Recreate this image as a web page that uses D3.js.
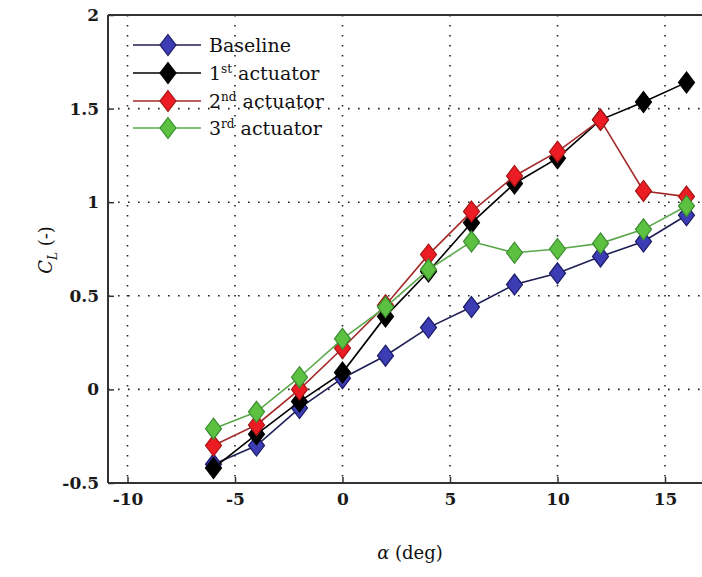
<!DOCTYPE html>
<html>
<head>
<meta charset="utf-8">
<script src="https://cdn.jsdelivr.net/npm/d3@7"></script>
<style>
  body { margin: 0; background: #fff; }
  svg { display: block; }
</style>
</head>
<body>
<div id="chart"></div>
<script>
var width = 702;
var height = 577;

// angle of attack (deg)
var alpha = [-6, -4, -2, 0, 2, 4, 6, 8, 10, 12, 14, 16];

var baseline = [-0.40, -0.30, -0.10, 0.06, 0.18, 0.33, 0.44, 0.56, 0.62, 0.71, 0.79, 0.93];
var actuator1 = [-0.42, -0.24, -0.065, 0.09, 0.39, 0.63, 0.89, 1.10, 1.235, 1.44, 1.535, 1.64];
var actuator2 = [-0.30, -0.19, 0.00, 0.22, 0.45, 0.72, 0.95, 1.14, 1.27, 1.44, 1.06, 1.03];
var actuator3 = [-0.21, -0.12, 0.065, 0.27, 0.44, 0.64, 0.79, 0.73, 0.75, 0.78, 0.855, 0.98];

var xTicks = [-10, -5, 0, 5, 10, 15];
var yTicks = [-0.5, 0, 0.5, 1, 1.5, 2];

var seriesNames = ["Baseline", "1st actuator", "2nd actuator", "3rd actuator"];
var seriesData = [baseline, actuator1, actuator2, actuator3];
var lineColors = ["#1e1e55", "#000000", "#a52a2a", "#5aa84a"];
var fillColors = ["#3c3cb4", "#000000", "#ec1c24", "#5cc040"];
var edgeColors = ["#1a1a66", "#000000", "#a81414", "#3c8c30"];

var margin = {left: 108, top: 15, bottom: 483};

var x = d3.scaleLinear().domain([-11, 17]).range([106, 708]);
var y = d3.scaleLinear().domain([-0.5, 2]).range([margin.bottom, margin.top]);

var svg = d3.select("#chart")
  .append("svg")
  .attr("width", width)
  .attr("height", height);

var font = "'DejaVu Serif', serif";

// dotted grid
svg.append("g")
  .selectAll("line")
  .data(xTicks)
  .enter()
  .append("line")
  .attr("x1", function(d) { return x(d); })
  .attr("x2", function(d) { return x(d); })
  .attr("y1", margin.top)
  .attr("y2", margin.bottom)
  .attr("stroke", "#222")
  .attr("stroke-width", 1.6)
  .attr("stroke-dasharray", "1.6,8.4");

svg.append("g")
  .selectAll("line")
  .data(yTicks)
  .enter()
  .append("line")
  .attr("x1", margin.left)
  .attr("x2", width)
  .attr("y1", function(d) { return y(d); })
  .attr("y2", function(d) { return y(d); })
  .attr("stroke", "#222")
  .attr("stroke-width", 1.6)
  .attr("stroke-dasharray", "1.6,8.4");

// axes, labels with a plain hyphen like the original
var fmt = function(d) { return String(d); };

var xAxis = svg.append("g")
  .attr("transform", "translate(0," + margin.bottom + ")")
  .call(d3.axisBottom(x).tickValues(xTicks).tickSize(-6).tickPadding(10).tickFormat(fmt));

var yAxis = svg.append("g")
  .attr("transform", "translate(" + margin.left + ",0)")
  .call(d3.axisLeft(y).tickValues(yTicks).tickSize(-6).tickPadding(9).tickFormat(fmt));

[xAxis, yAxis].forEach(function(ax) {
  ax.select(".domain").attr("stroke", "#333").attr("stroke-width", 2);
  ax.selectAll(".tick line").attr("stroke", "#333").attr("stroke-width", 1.5);
  ax.selectAll(".tick text")
    .attr("fill", "#1a1a1a")
    .style("font-family", font)
    .style("font-size", "17px")
    .style("font-weight", "bold");
});
// domain path would extend past the range; redraw clean lines
xAxis.select(".domain").attr("d", "M" + margin.left + ",0H" + width);
yAxis.select(".domain").attr("d", "M0," + margin.top + "V" + margin.bottom);

// top border
svg.append("line")
  .attr("x1", margin.left).attr("x2", width)
  .attr("y1", margin.top).attr("y2", margin.top)
  .attr("stroke", "#333").attr("stroke-width", 2);

// series
var line = d3.line()
  .x(function(d, i) { return x(alpha[i]); })
  .y(function(d) { return y(d); });

var diamond = "M0,-10.5L8,0L0,10.5L-8,0Z";

seriesData.forEach(function(vals, k) {
  svg.append("path")
    .datum(vals)
    .attr("d", line)
    .attr("fill", "none")
    .attr("stroke", lineColors[k])
    .attr("stroke-width", 1.6);

  svg.append("g")
    .selectAll("path")
    .data(vals)
    .enter()
    .append("path")
    .attr("d", diamond)
    .attr("transform", function(d, i) { return "translate(" + x(alpha[i]) + "," + y(d) + ")"; })
    .attr("fill", fillColors[k])
    .attr("stroke", edgeColors[k])
    .attr("stroke-width", 1.2);
});

// legend
var legend = svg.append("g");
var legendY = [45, 73, 101, 128];
var sups = [null, ["1", "st"], ["2", "nd"], ["3", "rd"]];

seriesNames.forEach(function(name, k) {
  var ly = legendY[k];
  legend.append("line")
    .attr("x1", 133).attr("x2", 201)
    .attr("y1", ly).attr("y2", ly)
    .attr("stroke", lineColors[k])
    .attr("stroke-width", 1.6);
  legend.append("path")
    .attr("d", diamond)
    .attr("transform", "translate(168," + ly + ")")
    .attr("fill", fillColors[k])
    .attr("stroke", edgeColors[k])
    .attr("stroke-width", 1.2);

  var t = legend.append("text")
    .attr("x", 209)
    .attr("y", ly + 7)
    .attr("fill", "#111")
    .style("font-family", font)
    .style("font-size", "19px");
  if (sups[k] == null) {
    t.text(name);
  } else {
    t.append("tspan").text(sups[k][0]);
    t.append("tspan").attr("dy", -7).style("font-size", "12px").text(sups[k][1]);
    t.append("tspan").attr("dy", 7).text(" actuator");
  }
});

// axis titles
var xt = svg.append("text")
  .attr("x", 410)
  .attr("y", 559)
  .attr("text-anchor", "middle")
  .attr("fill", "#111")
  .style("font-family", font)
  .style("font-size", "18px");
xt.append("tspan").style("font-style", "italic").text("α");
xt.append("tspan").text(" (deg)");

var yt = svg.append("text")
  .attr("transform", "translate(52,250) rotate(-90)")
  .attr("text-anchor", "middle")
  .attr("fill", "#111")
  .style("font-family", font)
  .style("font-size", "18px");
yt.append("tspan").style("font-style", "italic").text("C");
yt.append("tspan").attr("dy", 5).style("font-style", "italic").style("font-size", "12px").text("L");
yt.append("tspan").attr("dy", -5).text(" (-)");
</script>
</body>
</html>
